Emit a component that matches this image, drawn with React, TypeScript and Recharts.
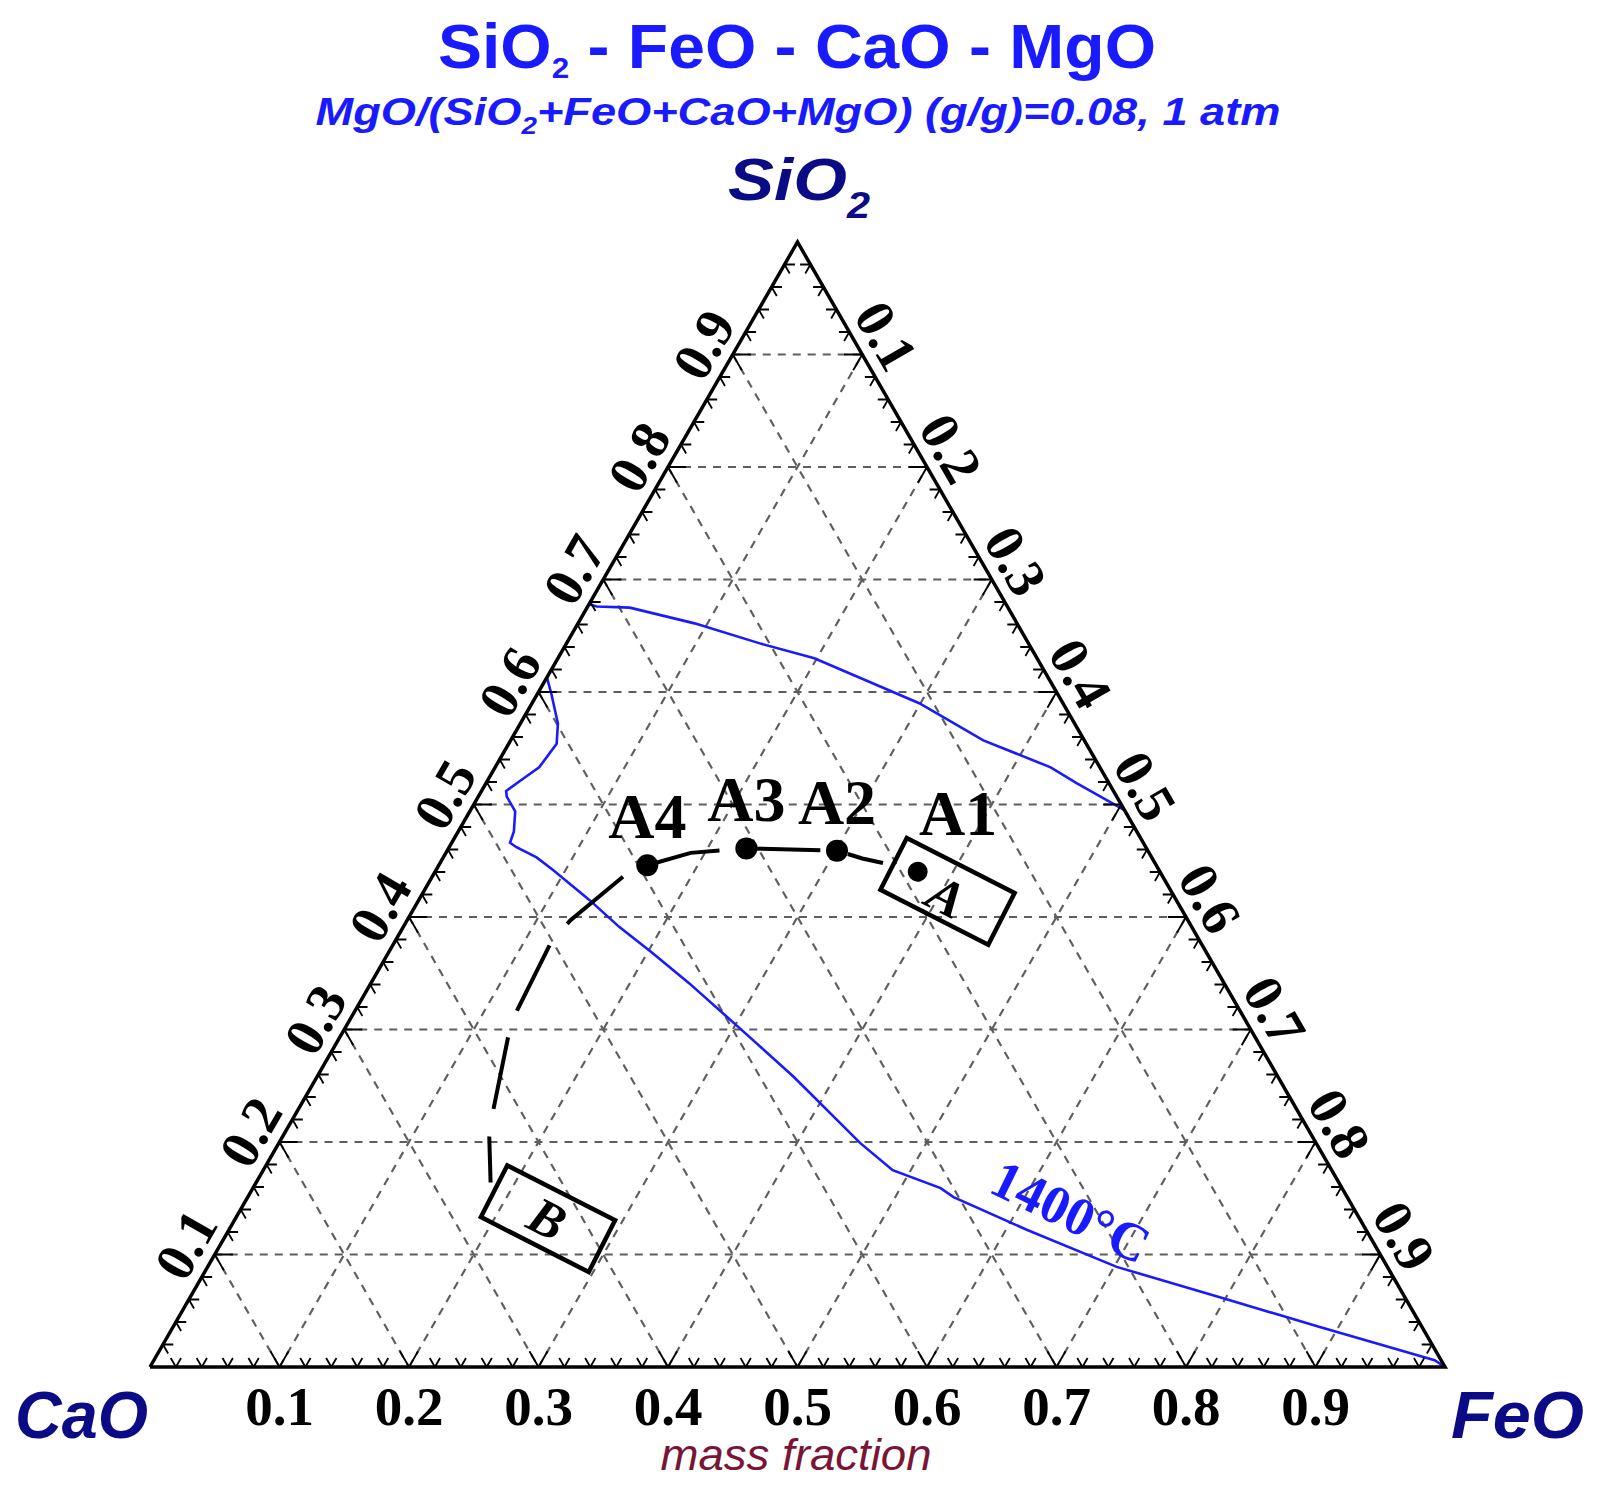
import React from "react";
import { ComposedChart, Line, Scatter, XAxis, YAxis, ReferenceLine } from "recharts";

// grid / tick values (mass fraction)
const GRID = [0.1, 0.2, 0.3, 0.4, 0.5, 0.6, 0.7, 0.8, 0.9];
const GRID_TEXT = ["0.1", "0.2", "0.3", "0.4", "0.5", "0.6", "0.7", "0.8", "0.9"];

// 1400°C isotherm, SiO2-rich branch
const UPPER_SIO2 = [0.678, 0.676, 0.675, 0.661, 0.643, 0.63, 0.59, 0.557, 0.533, 0.519, 0.495];
const UPPER_FEO = [0.0, 0.007, 0.033, 0.09, 0.15, 0.198, 0.299, 0.365, 0.429, 0.456, 0.505];

// 1400°C isotherm, CaO/FeO-rich branch
const LOWER_SIO2 = [0.613, 0.598, 0.572, 0.554, 0.533, 0.522, 0.512, 0.507, 0.494, 0.476, 0.466, 0.462, 0.453, 0.442, 0.415, 0.391, 0.368, 0.341, 0.301, 0.258, 0.199, 0.175, 0.159, 0.151, 0.122, 0.089, 0.06, 0.036, 0.006, 0];
const LOWER_FEO = [0, 0.011, 0.029, 0.037, 0.034, 0.026, 0.019, 0.022, 0.035, 0.043, 0.045, 0.052, 0.072, 0.09, 0.132, 0.167, 0.204, 0.246, 0.305, 0.368, 0.449, 0.486, 0.531, 0.545, 0.616, 0.702, 0.802, 0.884, 0.989, 1];

// path B -> A
const PATH_SIO2 = [0.164, 0.204, 0.228, 0.293, 0.317, 0.377, 0.397, 0.437, 0.446, 0.457, 0.461, 0.459, 0.452, 0.448];
const PATH_FEO = [0.181, 0.16, 0.151, 0.13, 0.125, 0.121, 0.126, 0.148, 0.161, 0.189, 0.23, 0.301, 0.324, 0.342];

const POINT_NAMES = ["A4", "A3", "A2"];
const POINT_SIO2 = [0.446, 0.461, 0.459];
const POINT_FEO = [0.161, 0.23, 0.301];

const BOX_LETTERS = ["A", "B"];
const BOX_TAGS = ["A1", ""];
const BOX_DOT = [true, false];
const BOX_SIO2 = [0.423, 0.132];
const BOX_FEO = [0.404, 0.241];

const ISO_TEXT = ["1400°C"];
const ISO_SIO2 = [0.138];
const ISO_FEO = [0.642];

// ternary (SiO2, FeO) -> cartesian
const tern = (s: number, f: number) => ({ x: f + s / 2, y: s });

const upperData = UPPER_SIO2.map((s, i) => tern(s, UPPER_FEO[i]));
const lowerData = LOWER_SIO2.map((s, i) => tern(s, LOWER_FEO[i]));
const pathData = PATH_SIO2.map((s, i) => tern(s, PATH_FEO[i]));
const pointData = POINT_NAMES.map((name, i) => ({ ...tern(POINT_SIO2[i], POINT_FEO[i]), name }));
const boxData = BOX_LETTERS.map((letter, i) => ({
  ...tern(BOX_SIO2[i], BOX_FEO[i]),
  letter,
  tag: BOX_TAGS[i],
  dot: BOX_DOT[i],
}));
const isoData = ISO_TEXT.map((text, i) => ({ ...tern(ISO_SIO2[i], ISO_FEO[i]), text }));

const frame = [tern(0, 0), tern(0, 1), tern(1, 0), tern(0, 0)];

const gridSegs = GRID.flatMap((v) => [
  [tern(v, 0), tern(v, 1 - v)],
  [tern(0, v), tern(1 - v, v)],
  [tern(1 - v, 0), tern(0, 1 - v)],
]);

// small ticks every 0.02 along the three edges
const minorTicks: any[] = [];
for (let i = 1; i < 50; i++) {
  const p = i / 50;
  const L = i % 5 === 0 ? 0.014 : 0.008;
  const segs = [
    [tern(0, p), tern(L, p)],
    [tern(0, p), tern(L, p - L)],
    [tern(p, 0), tern(p, L)],
    [tern(p, 0), tern(p - L, L)],
    [tern(p, 1 - p), tern(p, 1 - p - L)],
    [tern(p, 1 - p), tern(p - L, 1 - p)],
  ];
  segs.forEach(([a, b]) => minorTicks.push(a, b, { x: b.x, y: null }));
}

const bottomLabels = GRID.map((v, i) => ({ ...tern(0, v), text: GRID_TEXT[i] }));
const leftLabels = GRID.map((v, i) => ({ ...tern(v, 0), text: GRID_TEXT[i] }));
const rightLabels = GRID.map((v, i) => ({ ...tern(1 - v, v), text: GRID_TEXT[i] }));

const SERIF = "'Liberation Serif', 'Times New Roman', serif";
const SANS = "'Liberation Sans', Arial, sans-serif";
const BLUE = "#1a1aff";
const NAVY = "#0b0b85";

const edgeLabel = (rot: number, up: number, along: number) => (p: any) => {
  const r = (rot * Math.PI) / 180;
  const x = p.cx + up * Math.sin(r) + along * Math.cos(r);
  const y = p.cy - up * Math.cos(r) + along * Math.sin(r);
  return (
    <text
      x={x}
      y={y}
      dy="0.34em"
      transform={`rotate(${rot} ${x} ${y})`}
      textAnchor="middle"
      fontFamily={SERIF}
      fontWeight="bold"
      fontSize={55}
      fill="#000"
    >
      {p.payload.text}
    </text>
  );
};

const PointShape = (p: any) => (
  <g>
    <circle cx={p.cx} cy={p.cy} r={11} fill="#000" />
    <text
      x={p.cx}
      y={p.cy - 27}
      textAnchor="middle"
      fontFamily={SERIF}
      fontWeight="bold"
      fontSize={64}
      fill="#000"
    >
      {p.payload.name}
    </text>
  </g>
);

const BoxShape = (p: any) => {
  const { cx, cy, payload } = p;
  return (
    <g>
      <g transform={`translate(${cx} ${cy}) rotate(27)`}>
        <rect x={-60} y={-29} width={121} height={58} fill="none" stroke="#000" strokeWidth={4.5} />
        {payload.dot && <circle cx={-35} cy={-4} r={10} fill="#000" />}
        <text
          x={payload.dot ? 2 : 0}
          y={payload.dot ? 5 : 0}
          dy="0.34em"
          textAnchor="middle"
          fontFamily={SERIF}
          fontWeight="bold"
          fontStyle="italic"
          fontSize={52}
          fill="#000"
        >
          {payload.letter}
        </text>
      </g>
      {payload.tag && (
        <text
          x={cx + 11}
          y={cy - 56}
          textAnchor="middle"
          fontFamily={SERIF}
          fontWeight="bold"
          fontSize={64}
          fill="#000"
        >
          {payload.tag}
        </text>
      )}
    </g>
  );
};

const IsoLabel = (p: any) => (
  <text
    x={p.cx}
    y={p.cy}
    dy="0.34em"
    transform={`rotate(26 ${p.cx} ${p.cy})`}
    textAnchor="middle"
    fontFamily={SERIF}
    fontWeight="bold"
    fontSize={54}
    fill={BLUE}
  >
    {p.payload.text}
  </text>
);

export default function App() {
  return (
    <div style={{ position: "absolute", left: 0, top: 0, width: 1597, height: 1497, background: "#fff" }}>
      <ComposedChart
        width={1597}
        height={1497}
        margin={{ top: 242, right: 152, bottom: 130, left: 150 }}
      >
        <XAxis type="number" dataKey="x" domain={[0, 1]} hide />
        <YAxis type="number" dataKey="y" domain={[0, 1]} hide />

        {gridSegs.map((seg, i) => (
          <ReferenceLine
            key={i}
            segment={seg}
            stroke="#5e5e5e"
            strokeWidth={2.2}
            strokeDasharray="8 7"
            ifOverflow="visible"
          />
        ))}

        <Line data={upperData} dataKey="y" type="linear" stroke={BLUE} strokeWidth={2.6} dot={false} isAnimationActive={false} />
        <Line data={lowerData} dataKey="y" type="linear" stroke={BLUE} strokeWidth={2.6} dot={false} isAnimationActive={false} />

        <Line data={minorTicks} dataKey="y" type="linear" stroke="#000" strokeWidth={1.8} dot={false} connectNulls={false} isAnimationActive={false} />
        <Line data={frame} dataKey="y" type="linear" stroke="#000" strokeWidth={3.5} dot={false} isAnimationActive={false} />

        <Line
          data={pathData}
          dataKey="y"
          type="linear"
          stroke="#000"
          strokeWidth={4}
          strokeDasharray="73 28"
          strokeDashoffset={27}
          dot={false}
          isAnimationActive={false}
        />

        <Scatter data={pointData} dataKey="y" shape={PointShape} isAnimationActive={false} />
        <Scatter data={boxData} dataKey="y" shape={BoxShape} isAnimationActive={false} />
        <Scatter data={isoData} dataKey="y" shape={IsoLabel} isAnimationActive={false} />

        <Scatter data={bottomLabels} dataKey="y" shape={edgeLabel(0, -39, 0)} isAnimationActive={false} />
        <Scatter data={leftLabels} dataKey="y" shape={edgeLabel(-60, 30, -6)} isAnimationActive={false} />
        <Scatter data={rightLabels} dataKey="y" shape={edgeLabel(60, 30, -4)} isAnimationActive={false} />
      </ComposedChart>

      <svg
        width={1597}
        height={1497}
        style={{ position: "absolute", left: 0, top: 0, pointerEvents: "none" }}
      >
        <text x={797} y={68} textAnchor="middle" fontFamily={SANS} fontWeight="bold" fontSize={63} fill={BLUE} textLength={718} lengthAdjust="spacingAndGlyphs">
          SiO<tspan fontSize={30} dy={10}>2</tspan>
          <tspan dy={-10}> - FeO - CaO - MgO</tspan>
        </text>
        <text x={798} y={125} textAnchor="middle" fontFamily={SANS} fontWeight="bold" fontStyle="italic" fontSize={39} fill={BLUE} textLength={965} lengthAdjust="spacingAndGlyphs">
          MgO/(SiO<tspan fontSize={24} dy={9}>2</tspan>
          <tspan dy={-9}>+FeO+CaO+MgO) (g/g)=0.08, 1 atm</tspan>
        </text>
        <text x={799} y={200} textAnchor="middle" fontFamily={SANS} fontWeight="bold" fontStyle="italic" fontSize={60} fill={NAVY} textLength={142} lengthAdjust="spacingAndGlyphs">
          SiO<tspan fontSize={36} dy={18}>2</tspan>
        </text>
        <text x={15} y={1438} fontFamily={SANS} fontWeight="bold" fontStyle="italic" fontSize={66} fill={NAVY} textLength={133} lengthAdjust="spacingAndGlyphs">
          CaO
        </text>
        <text x={1451} y={1438} fontFamily={SANS} fontWeight="bold" fontStyle="italic" fontSize={66} fill={NAVY} textLength={133} lengthAdjust="spacingAndGlyphs">
          FeO
        </text>
        <text x={796} y={1470} textAnchor="middle" fontFamily={SANS} fontStyle="italic" fontSize={45} fill="#7a1436" textLength={271} lengthAdjust="spacingAndGlyphs">
          mass fraction
        </text>
      </svg>
    </div>
  );
}
